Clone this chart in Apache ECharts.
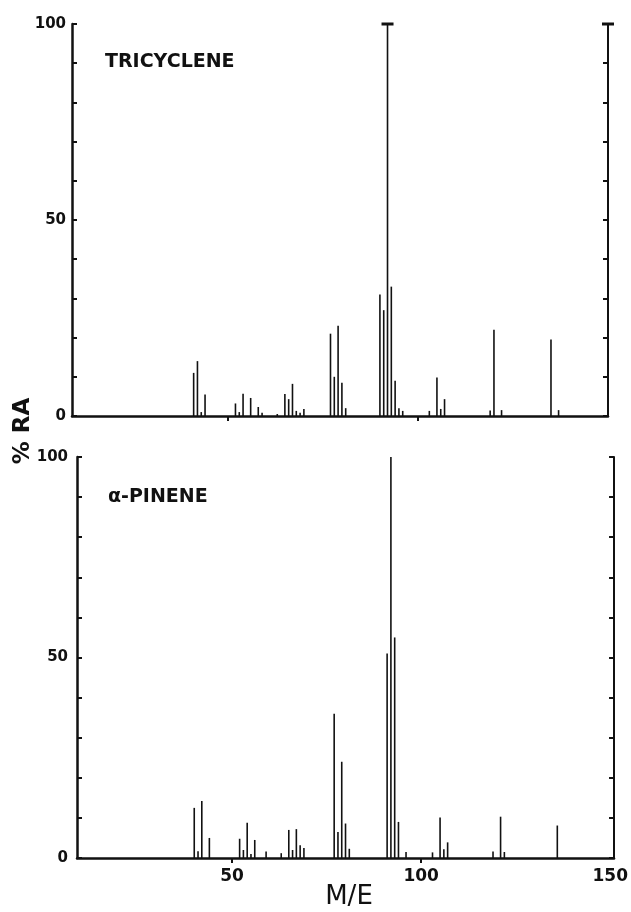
<!DOCTYPE html>
<html><head><meta charset="utf-8">
<script src="https://cdn.jsdelivr.net/npm/echarts@6/dist/echarts.min.js"></script>
<style>html,body{margin:0;padding:0;background:#fff}#c{width:631px;height:912px}</style>
</head><body><div id="c"></div>
<script>
// ---- data ----
const panelNames = ['TRICYCLENE', 'α-PINENE'];
const xTitle = 'M/E';
const yTitle = '% RA';
const xTickValues = [50, 100];
const xLabelValues = [50, 100, 150];
const yLabelValues = [0, 50, 100];

const triMz = [41, 42, 43, 44, 52, 53, 54, 56, 58, 59, 63, 65, 66, 67, 68, 69, 70, 77, 78, 79, 80, 81, 90, 91, 92, 93, 94, 95, 96, 103, 105, 106, 107, 119, 120, 122, 135, 137];
const triRA = [11, 14, 1, 5.5, 3.2, 1, 5.7, 4.6, 2.3, 0.8, 0.5, 5.6, 4.3, 8.2, 1.3, 0.8, 1.8, 21, 10, 23, 8.5, 2, 31, 27, 100, 33, 9, 2, 1.3, 1.3, 9.8, 1.8, 4.3, 1.4, 22, 1.5, 19.5, 1.5];

const pinMz = [40, 41, 42, 44, 52, 53, 54, 55, 56, 59, 63, 65, 66, 67, 68, 69, 77, 78, 79, 80, 81, 91, 92, 93, 94, 96, 103, 105, 106, 107, 119, 121, 122, 136];
const pinRA = [12.5, 1.7, 14.2, 5, 4.8, 2, 8.8, 1, 4.5, 1.6, 1.2, 7, 2, 7.2, 3.2, 2.5, 36, 6.5, 24, 8.6, 2.3, 51, 100, 55, 9, 1.5, 1.4, 10.1, 2.2, 3.9, 1.6, 10.3, 1.5, 8.1];

// ---- chart ----
const FONT = 'DejaVu Sans';
const INK = '#111';
const chart = echarts.init(document.getElementById('c'));

function peakSeries(mz, ra, idx, cap) {
  return {
    type: 'custom',
    coordinateSystem: 'cartesian2d',
    xAxisIndex: idx,
    yAxisIndex: idx * 2,
    data: mz.map((m, i) => [m, ra[i]]),
    renderItem(params, api) {
      const x = api.value(0), y = api.value(1);
      const p0 = api.coord([x, 0]);
      const p1 = api.coord([x, y]);
      const children = [{
        type: 'line',
        shape: { x1: p0[0], y1: p0[1], x2: p1[0], y2: p1[1] },
        style: { stroke: INK, lineWidth: 1.6 }
      }];
      if (cap && y >= 100) {
        children.push({
          type: 'line',
          shape: { x1: p1[0] - 6, y1: p1[1], x2: p1[0] + 6, y2: p1[1] },
          style: { stroke: INK, lineWidth: 3 }
        });
      }
      return { type: 'group', children };
    }
  };
}

function xAxis(gi, max, showLabels) {
  return {
    gridIndex: gi, type: 'value', min: 9, max: max,
    axisLine: { show: true, onZero: false, lineStyle: { color: INK, width: 2.5 } },
    axisTick: { show: true, customValues: xTickValues, length: 5, lineStyle: { color: INK, width: 2 } },
    axisLabel: showLabels ? {
      show: true, customValues: xLabelValues, color: INK, fontFamily: FONT,
      fontWeight: 'bold', fontSize: 17, margin: 10
    } : { show: false },
    splitLine: { show: false }
  };
}

function leftY(gi, margin) {
  return {
    gridIndex: gi, type: 'value', min: 0, max: 100, interval: 10, position: 'left',
    axisLine: { show: true, lineStyle: { color: INK, width: 2.5 } },
    axisTick: { show: true, inside: true, length: 5, lineStyle: { color: INK, width: 2 } },
    axisLabel: {
      formatter: v => (yLabelValues.indexOf(v) >= 0 ? String(v) : ''),
      color: INK, fontFamily: FONT, fontWeight: 'bold', fontSize: 15, margin: margin
    },
    splitLine: { show: false }
  };
}

function rightY(gi, cap) {
  return {
    gridIndex: gi, type: 'value', min: 0, max: 100, interval: 10, position: 'right',
    axisLine: {
      show: true, lineStyle: { color: INK, width: 2 },
      symbol: cap ? ['none', 'path://M0,0 L12,0 L12,3 L0,3 Z'] : ['none', 'none'],
      symbolSize: [12, 3]
    },
    axisTick: { show: true, inside: true, length: 5, lineStyle: { color: INK, width: 2 } },
    axisLabel: { show: false },
    splitLine: { show: false }
  };
}

chart.setOption({
  backgroundColor: '#fff',
  animation: false,
  grid: [
    { left: 72, top: 24, width: 536, height: 392 },
    { left: 77, top: 457, width: 540, height: 401 }
  ],
  xAxis: [xAxis(0, 150, false), xAxis(1, 151, true)],
  yAxis: [leftY(0, 6), rightY(0, true), leftY(1, 9), rightY(1, false)],
  series: [peakSeries(triMz, triRA, 0, true), peakSeries(pinMz, pinRA, 1, false)],
  graphic: [
    { type: 'text', x: 105, y: 62, style: { text: panelNames[0], fill: INK, fontFamily: FONT, fontWeight: 'bold', fontSize: 19, verticalAlign: 'middle' } },
    { type: 'text', x: 108, y: 497, style: { text: panelNames[1], fill: INK, fontFamily: FONT, fontWeight: 'bold', fontSize: 19, verticalAlign: 'middle' } },
    { type: 'text', x: 23, y: 431, rotation: Math.PI / 2, style: { text: yTitle, fill: INK, fontFamily: FONT, fontWeight: 'bold', fontSize: 23, align: 'center', verticalAlign: 'middle' } },
    { type: 'text', x: 349, y: 897, style: { text: xTitle, fill: INK, fontFamily: FONT, fontSize: 26, align: 'center', verticalAlign: 'middle' } }
  ]
});
</script>
</body></html>
